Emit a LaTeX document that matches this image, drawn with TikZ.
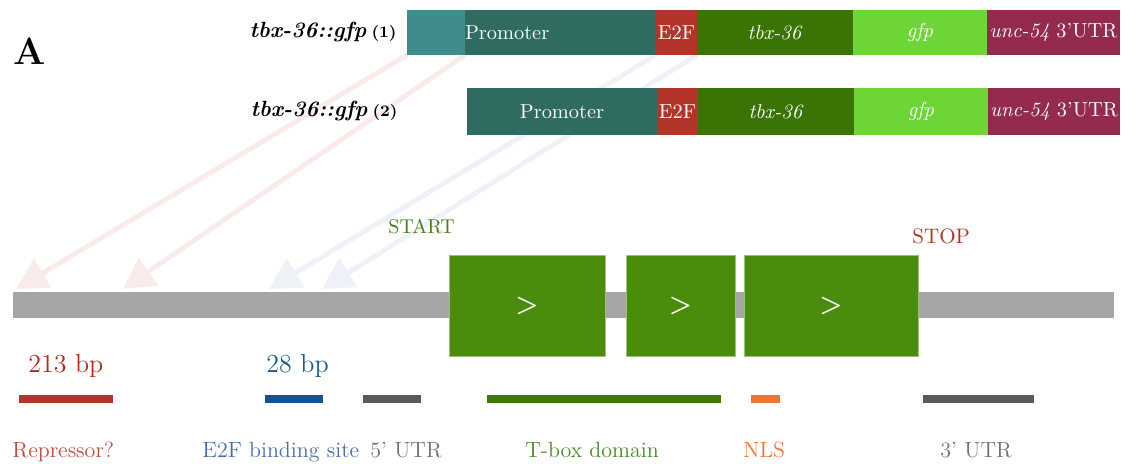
\documentclass[tikz,border=0pt]{standalone}
\usepackage{tikz}
\usetikzlibrary{positioning,arrows.meta,backgrounds}

\definecolor{tealLight}{HTML}{3F8C8C}
\definecolor{tealDark}{HTML}{2F6B61}
\definecolor{e2fRed}{HTML}{B3352A}
\definecolor{tbxGreen}{HTML}{3A7405}
\definecolor{gfpGreen}{HTML}{6DD536}
\definecolor{utrWine}{HTML}{952A4F}
\definecolor{exonGreen}{HTML}{4A8C0B}
\definecolor{exonEdge}{HTML}{9CC27A}
\definecolor{geneGray}{HTML}{A6A6A6}
\definecolor{pinkArrow}{HTML}{F9EBEA}
\definecolor{blueArrow}{HTML}{EEF1F7}
\definecolor{repRed}{HTML}{B3352A}
\definecolor{repText}{HTML}{C04A3E}
\definecolor{bpRed}{HTML}{B02818}
\definecolor{bpBlue}{HTML}{1B5A8A}
\definecolor{e2fBlue}{HTML}{175394}
\definecolor{siteBlue}{HTML}{4A6CAE}
\definecolor{utrGray}{HTML}{5A5A5A}
\definecolor{utrText}{HTML}{707070}
\definecolor{tboxGreen}{HTML}{3C7A08}
\definecolor{tboxText}{HTML}{468A2C}
\definecolor{nlsOrange}{HTML}{EE7433}
\definecolor{startGreen}{HTML}{437F1F}
\definecolor{stopRed}{HTML}{B83224}

\begin{document}
\begin{tikzpicture}[x=0.5pt, y=-0.5pt,
    segnode/.style={rectangle, inner sep=0pt, outer sep=0pt, text=white, font=\fontsize{10.2}{12}\selectfont},
    rowA/.style={segnode, minimum height=22.5pt},
    rowB/.style={segnode, minimum height=23.5pt},
    exonnode/.style={rectangle, inner sep=0pt, outer sep=0pt, fill=exonGreen, draw=exonEdge, line width=0.4pt, minimum height=50.5pt, anchor=north west, text=white, font=\sffamily\bfseries\fontsize{13}{13}\selectfont},
    featbar/.style={rectangle, inner sep=0pt, outer sep=0pt, minimum height=4pt, anchor=west},
    featlabel/.style={anchor=base west, inner sep=0pt, font=\fontsize{11}{13}\selectfont},
    sizelabel/.style={anchor=base west, inner sep=0pt, font=\fontsize{13}{15}\selectfont},
    namelabel/.style={inner sep=0pt, font=\bfseries\itshape\fontsize{11}{13}\selectfont},
    fadearrow/.style={line width=2.5pt, -{Triangle[length=15.5pt, width=16.5pt]}}
    ]
        \useasboundingbox (0,0) rectangle (1122,464);

        %Constructs
        \node[anchor=base west, inner sep=0pt, font=\bfseries\fontsize{19}{22}\selectfont]
            (panel) at (13,65) {A};
        \node[rowA, fill=tealLight, minimum width=29pt, anchor=north west]
            (lightA) at (407,10) {};
        \node[rowA, fill=tealDark, text width=95.5pt, align=left]
            (promA) [right=0pt of lightA] {Promoter};
        \node[rowA, fill=e2fRed, minimum width=20.5pt]
            (e2fA) [right=0pt of promA] {E2F};
        \node[rowA, fill=tbxGreen, minimum width=78pt]
            (tbxA) [right=0pt of e2fA] {\textit{tbx-36}};
        \node[rowA, fill=gfpGreen, minimum width=67pt]
            (gfpA) [right=0pt of tbxA] {\textit{gfp}};
        \node[rowA, fill=utrWine, minimum width=66.5pt]
            (utrA) [right=0pt of gfpA] {\textit{unc-54} 3’UTR};
        \node[namelabel]
            (nameA) [left=5pt of lightA] {tbx-36::gfp\hspace{2.5pt}\textup{\fontsize{8}{9}\selectfont(1)}};

        \node[rowB, fill=tealDark, minimum width=95pt, anchor=north west]
            (promB) at (467,88) {Promoter};
        \node[rowB, fill=e2fRed, minimum width=20.5pt]
            (e2fB) [right=0pt of promB] {E2F};
        \node[rowB, fill=tbxGreen, minimum width=78pt]
            (tbxB) [right=0pt of e2fB] {\textit{tbx-36}};
        \node[rowB, fill=gfpGreen, minimum width=67pt]
            (gfpB) [right=0pt of tbxB] {\textit{gfp}};
        \node[rowB, fill=utrWine, minimum width=66pt]
            (utrB) [right=0pt of gfpB] {\textit{unc-54} 3’UTR};
        \node[namelabel]
            (nameB) [left=34.5pt of promB] {tbx-36::gfp\hspace{2.5pt}\textup{\fontsize{8}{9}\selectfont(2)}};

        %Gene
        \node[rectangle, fill=geneGray, inner sep=0pt, outer sep=0pt, minimum width=550.5pt, minimum height=13pt, anchor=north west]
            (gene) at (13,292) {};
        \node[exonnode, minimum width=78pt]   (exon1) at (449,255) {>};
        \node[exonnode, minimum width=54.5pt] (exon2) at (626,255) {>};
        \node[exonnode, minimum width=87pt]   (exon3) at (744,255) {>};
        \node[anchor=base west, inner sep=0pt, text=startGreen, font=\fontsize{10}{12}\selectfont]
            (start) at (388,234) {START};
        \node[anchor=base west, inner sep=0pt, text=stopRed, font=\fontsize{10.5}{12}\selectfont]
            (stop) at (912,244) {STOP};

        %Arrows
        \coordinate (tipRep1) at (16,289);
        \coordinate (tipRep2) at (123,289);
        \coordinate (tipSite1) at (269,289);
        \coordinate (tipSite2) at (322,289);
        \begin{scope}[on background layer]
        \draw[fadearrow, color=pinkArrow] (lightA.south west) -- (tipRep1);
        \draw[fadearrow, color=pinkArrow] (lightA.south east) -- (tipRep2);
        \draw[fadearrow, color=blueArrow] (e2fA.south west) -- (tipSite1);
        \draw[fadearrow, color=blueArrow] (e2fA.south east) -- (tipSite2);
        \end{scope}

        %Features
        \node[sizelabel, text=bpRed]  (sizeRep)  at (28,372)  {213 bp};
        \node[sizelabel, text=bpBlue] (sizeSite) at (266,372) {28 bp};
        \node[featbar, fill=repRed, minimum width=47pt]      (barRep)  at (19,399)  {};
        \node[featbar, fill=e2fBlue, minimum width=29pt]     (barSite) at (265,399) {};
        \node[featbar, fill=utrGray, minimum width=29pt]     (barFive) at (363,399) {};
        \node[featbar, fill=tboxGreen, minimum width=117pt]  (barTbox) at (487,399) {};
        \node[featbar, fill=nlsOrange, minimum width=14.5pt] (barNls)  at (751,399) {};
        \node[featbar, fill=utrGray, minimum width=55.5pt]   (barThree) at (923,399) {};
        \node[featlabel, text=repText]   (lblRep)   at (12,457)  {Repressor?};
        \node[featlabel, text=siteBlue]  (lblSite)  at (202,457) {E2F binding site};
        \node[featlabel, text=utrText]   (lblFive)  at (370,457) {5’ UTR};
        \node[featlabel, text=tboxText]  (lblTbox)  at (525,457) {T-box domain};
        \node[featlabel, text=nlsOrange] (lblNls)   at (743,457) {NLS};
        \node[featlabel, text=utrText]   (lblThree) at (940,457) {3’ UTR};
    \end{tikzpicture}
\end{document}
